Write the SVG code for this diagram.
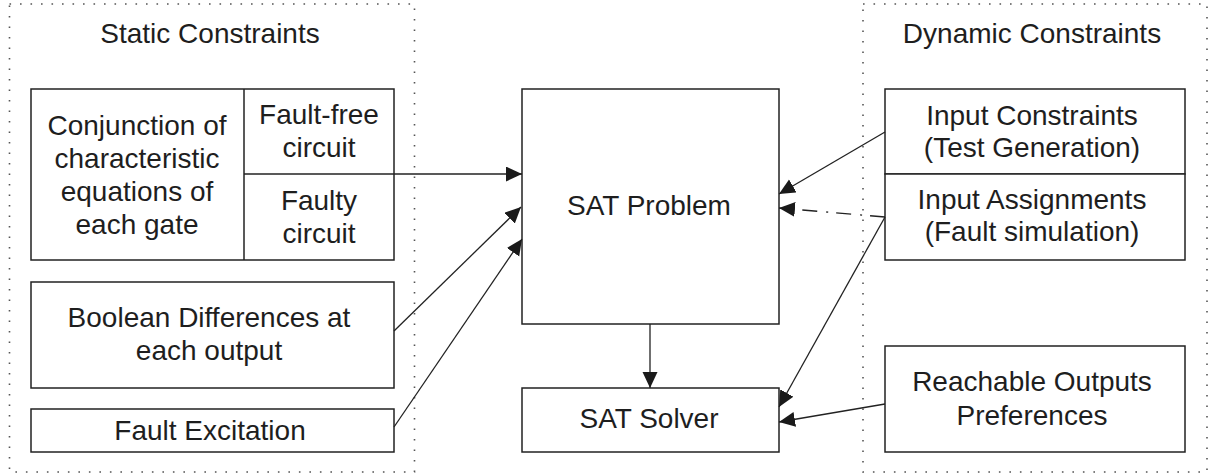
<svg xmlns="http://www.w3.org/2000/svg" width="1209" height="475" viewBox="0 0 1209 475">
<style>
  .group { fill: none; stroke: #555; stroke-width: 1.6; stroke-dasharray: 1.6 8.9; }
  .box { fill: #fff; stroke: #222; stroke-width: 1.5; }
  .div { stroke: #222; stroke-width: 1.5; fill: none; }
  .t { font-family: "Liberation Sans", Arial, sans-serif; font-size: 28px; fill: #1e1e1e; text-anchor: middle; }
  .c { stroke: #222; stroke-width: 1.3; fill: none; marker-end: url(#ah); }
  .dd { stroke-dasharray: 15 8 2 9; }
</style>
<defs>
  <marker id="ah" markerUnits="userSpaceOnUse" markerWidth="18" markerHeight="16" refX="16" refY="7.5" orient="auto">
    <path d="M0,0 L16,7.5 L0,15 Z" fill="#1a1a1a"/>
  </marker>
</defs>
<rect width="1209" height="475" fill="#fff"/>

<g id="static-group">
  <rect class="group" x="9.5" y="4" width="405" height="468"/>
  <text class="t" x="210" y="43">Static Constraints</text>
</g>
<g id="dynamic-group">
  <rect class="group" x="863" y="4" width="344" height="468"/>
  <text class="t" x="1032" y="43">Dynamic Constraints</text>
</g>

<g id="conjunction">
  <rect class="box" x="31" y="89" width="363" height="171"/>
  <line class="div" x1="244" y1="89" x2="244" y2="260"/>
  <line class="div" x1="244" y1="174" x2="394" y2="174"/>
  <text class="t" x="137" y="135">Conjunction of</text>
  <text class="t" x="137" y="168">characteristic</text>
  <text class="t" x="137" y="201">equations of</text>
  <text class="t" x="137" y="234">each gate</text>
</g>
<g id="fault-free">
  <text class="t" x="319" y="124">Fault-free</text>
  <text class="t" x="319" y="157">circuit</text>
</g>
<g id="faulty">
  <text class="t" x="319" y="210">Faulty</text>
  <text class="t" x="319" y="243">circuit</text>
</g>
<g id="boolean">
  <rect class="box" x="31" y="282" width="363" height="106"/>
  <text class="t" x="209" y="327">Boolean Differences at</text>
  <text class="t" x="209" y="360">each output</text>
</g>
<g id="excitation">
  <rect class="box" x="31" y="409" width="363" height="43"/>
  <text class="t" x="210" y="440">Fault Excitation</text>
</g>

<g id="sat-problem">
  <rect class="box" x="522" y="89" width="257" height="235"/>
  <text class="t" x="649" y="215">SAT Problem</text>
</g>
<g id="sat-solver">
  <rect class="box" x="522" y="388" width="257" height="64"/>
  <text class="t" x="649" y="428">SAT Solver</text>
</g>

<g id="input-constraints">
  <rect class="box" x="885" y="89" width="300" height="85"/>
  <text class="t" x="1032" y="125">Input Constraints</text>
  <text class="t" x="1032" y="157">(Test Generation)</text>
</g>
<g id="input-assignments">
  <rect class="box" x="885" y="174" width="300" height="86"/>
  <text class="t" x="1032" y="209">Input Assignments</text>
  <text class="t" x="1032" y="241">(Fault simulation)</text>
</g>
<g id="reachable">
  <rect class="box" x="885" y="346" width="300" height="106"/>
  <text class="t" x="1032" y="391">Reachable Outputs</text>
  <text class="t" x="1032" y="425">Preferences</text>
</g>

<g id="connectors">
  <line class="c" x1="394" y1="174" x2="522" y2="174"/>
  <line class="c" x1="394" y1="331" x2="521" y2="207"/>
  <line class="c" x1="394" y1="427" x2="522" y2="239"/>
  <line class="c" x1="885" y1="132" x2="779" y2="194"/>
  <line class="c dd" x1="885" y1="217" x2="779" y2="208"/>
  <line class="c" x1="885" y1="217" x2="779" y2="407"/>
  <line class="c" x1="885" y1="404" x2="779" y2="422"/>
  <line class="c" x1="650" y1="324" x2="650" y2="388"/>
</g>
</svg>
